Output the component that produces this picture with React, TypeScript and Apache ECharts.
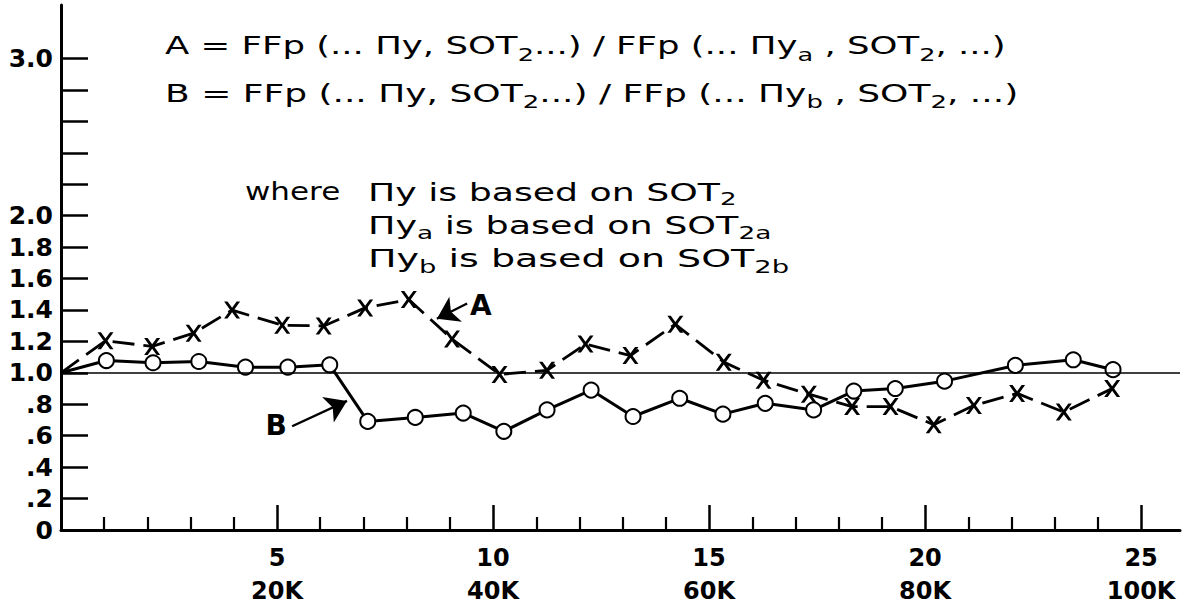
import React, { useEffect, useRef } from 'react';
import * as echarts from 'echarts';

// ---- data ----
const A_X = [0, 1.03, 2.11, 3.07, 3.96, 5.12, 6.08, 7.04, 8.05, 9.05, 10.15, 11.25, 12.14, 13.18, 14.22, 15.34, 16.26, 17.31, 18.31, 19.2, 20.2, 21.13, 22.13, 23.21, 24.33];
const A_Y = [1.0, 1.204, 1.168, 1.252, 1.399, 1.303, 1.298, 1.413, 1.466, 1.215, 0.99, 1.016, 1.183, 1.11, 1.309, 1.068, 0.953, 0.864, 0.785, 0.785, 0.67, 0.792, 0.869, 0.75, 0.9];
const B_X = [0, 1.05, 2.13, 3.19, 4.27, 5.25, 6.22, 7.1, 8.2, 9.31, 10.25, 11.25, 12.27, 13.24, 14.32, 15.32, 16.3, 17.42, 18.35, 19.31, 20.45, 22.09, 23.43, 24.35];
const B_Y = [1.0, 1.078, 1.064, 1.072, 1.036, 1.036, 1.051, 0.691, 0.716, 0.744, 0.628, 0.764, 0.89, 0.722, 0.838, 0.737, 0.806, 0.764, 0.884, 0.9, 0.947, 1.047, 1.083, 1.02];

const X_MAJOR = [5, 10, 15, 20, 25];
const X_MAJOR_SECOND = ['20K', '40K', '60K', '80K', '100K'];
const X_MINOR = [1, 2, 3, 4, 6, 7, 8, 9, 11, 12, 13, 14, 16, 17, 18, 19, 21, 22, 23, 24];
const Y_TICKS = [0, 0.2, 0.4, 0.6, 0.8, 1.0, 1.2, 1.4, 1.6, 1.8, 2.0, 2.2, 2.4, 2.6, 2.8, 3.0];
const Y_LABELS = [0, 0.2, 0.4, 0.6, 0.8, 1.0, 1.2, 1.4, 1.6, 1.8, 2.0, 3.0];
const REF_LEVEL = 1.0;

const ARROW_A = [[9.4, 1.441], [8.7, 1.344]];
const LABEL_A = [9.72, 1.428];
const ARROW_B = [[5.35, 0.66], [6.62, 0.821]];
const LABEL_B = [4.98, 0.666];

const X_PATH = 'path://M0,0 L3,0 L7,5.5 L11,0 L14,0 L8.7,7.5 L14,15 L11,15 L7,9.5 L3,15 L0,15 L5.3,7.5 Z';

const FONT = 'DejaVu Sans';

function fmtY(v: number): string {
  const r = Math.round(v * 10) / 10;
  if (r === 0) return '0';
  if (r < 1) return '.' + Math.round(r * 10);
  return r.toFixed(1);
}

export default function App() {
  const ref = useRef<HTMLDivElement>(null);
  useEffect(() => {
    if (!ref.current) return;
    const chart = echarts.init(ref.current, undefined, { renderer: 'svg' });

    const makeRich = (lh: number) => ({
      n: { fontSize: 25, fontFamily: FONT, lineHeight: lh, verticalAlign: 'middle', fill: '#000' },
      s: { fontSize: 18, fontFamily: FONT, lineHeight: 12, verticalAlign: 'bottom', fill: '#000' },
    });
    const txt = (x: number, y: number, sx: number, lh: number, text: string) => ({
      type: 'text',
      x,
      y,
      scaleX: sx,
      style: {
        text,
        rich: makeRich(lh),
        fill: '#000',
        fontSize: 25,
        fontFamily: FONT,
        lineHeight: lh,
        align: 'left',
        verticalAlign: 'middle',
        textAlign: 'left',
        textVerticalAlign: 'middle',
      },
    });

    const option: any = {
      animation: false,
      backgroundColor: '#fff',
      grid: { left: 61, top: 5, width: 1119, height: 532, containLabel: false },
      xAxis: [
        {
          type: 'value',
          min: 0,
          max: 25.9,
          position: 'bottom',
          axisLine: { show: true, lineStyle: { color: '#000', width: 3 } },
          axisTick: { show: true, inside: true, length: 25, lineStyle: { color: '#000', width: 2.5 }, customValues: X_MAJOR },
          axisLabel: {
            show: true,
            customValues: X_MAJOR,
            formatter: (v: number) => {
              const i = X_MAJOR.indexOf(Math.round(v));
              return i >= 0 ? `${X_MAJOR[i]}\n${X_MAJOR_SECOND[i]}` : '';
            },
            color: '#000',
            fontFamily: FONT,
            fontWeight: 'bold',
            fontSize: 24,
            lineHeight: 33,
            margin: 11,
          },
          splitLine: { show: false },
        },
        {
          type: 'value',
          min: 0,
          max: 25.9,
          position: 'bottom',
          axisLine: { show: false },
          axisTick: { show: true, inside: true, length: 13, lineStyle: { color: '#000', width: 2.2 }, customValues: X_MINOR },
          axisLabel: { show: false },
          splitLine: { show: false },
        },
      ],
      yAxis: {
        type: 'value',
        min: 0,
        max: 3.34,
        axisLine: { show: true, lineStyle: { color: '#000', width: 3 } },
        axisTick: { show: true, inside: true, length: 27, lineStyle: { color: '#000', width: 2.5 }, customValues: Y_TICKS },
        axisLabel: {
          show: true,
          customValues: Y_LABELS,
          formatter: fmtY,
          color: '#000',
          fontFamily: FONT,
          fontWeight: 'bold',
          fontSize: 25,
          margin: 8,
        },
        splitLine: { show: false },
      },
      series: [
        {
          name: 'ref',
          type: 'line',
          data: [],
          z: 1,
          markLine: {
            silent: true,
            symbol: 'none',
            label: { show: false },
            lineStyle: { color: '#000', width: 1.6, type: 'solid' },
            data: [{ yAxis: REF_LEVEL }],
          },
        },
        {
          name: 'A',
          type: 'line',
          xAxisIndex: 0,
          z: 3,
          data: A_X.map((x, i) => (i === 0 ? { value: [x, A_Y[i]], symbol: 'none' } : [x, A_Y[i]])),
          symbol: X_PATH,
          symbolSize: [16, 17],
          itemStyle: { color: '#000' },
          lineStyle: { color: '#000', width: 2.8, type: [22, 9] },
        },
        {
          name: 'B',
          type: 'line',
          xAxisIndex: 0,
          z: 4,
          data: B_X.map((x, i) => (i === 0 ? { value: [x, B_Y[i]], symbol: 'none' } : [x, B_Y[i]])),
          symbol: 'emptyCircle',
          symbolSize: 15,
          itemStyle: { color: '#000', borderWidth: 2.6, borderColor: '#000' },
          lineStyle: { color: '#000', width: 3 },
        },
        {
          name: 'notes',
          type: 'line',
          data: [],
          z: 5,
          markLine: {
            silent: true,
            symbol: ['none', 'arrow'],
            symbolSize: 21,
            label: { show: false },
            lineStyle: { color: '#000', width: 2.4, type: 'solid' },
            data: [
              [{ coord: ARROW_A[0] }, { coord: ARROW_A[1] }],
              [{ coord: ARROW_B[0] }, { coord: ARROW_B[1] }],
            ],
          },
          markPoint: {
            silent: true,
            symbol: 'circle',
            symbolSize: 0,
            label: {
              show: true,
              position: 'inside',
              color: '#000',
              fontFamily: FONT,
              fontWeight: 'bold',
              fontSize: 28,
              formatter: (p: any) => p.name,
            },
            data: [
              { name: 'A', coord: LABEL_A },
              { name: 'B', coord: LABEL_B },
            ],
          },
        },
      ],
      graphic: [
        txt(165, 45, 1.42, 36, '{n|A = FFp (... Πy, SOT}{s|2}{n|...) / FFp (... Πy}{s|a}{n| , SOT}{s|2}{n|, ...)}'),
        txt(165, 93, 1.44, 36, '{n|B = FFp (... Πy, SOT}{s|2}{n|...) / FFp (... Πy}{s|b}{n| , SOT}{s|2}{n|, ...)}'),
        txt(245, 192, 1.24, 32, '{n|where}'),
        txt(368, 192, 1.45, 32, '{n|Πy is based on SOT}{s|2}'),
        txt(368, 225, 1.46, 34, '{n|Πy}{s|a}{n| is based on SOT}{s|2a}'),
        txt(368, 258, 1.52, 36, '{n|Πy}{s|b}{n| is based on SOT}{s|2b}'),
      ],
    };

    chart.setOption(option);
    return () => chart.dispose();
  }, []);

  return (
    <div
      ref={ref}
      style={{ position: 'fixed', left: 0, top: 0, width: 1185, height: 607, background: '#fff' }}
    />
  );
}
